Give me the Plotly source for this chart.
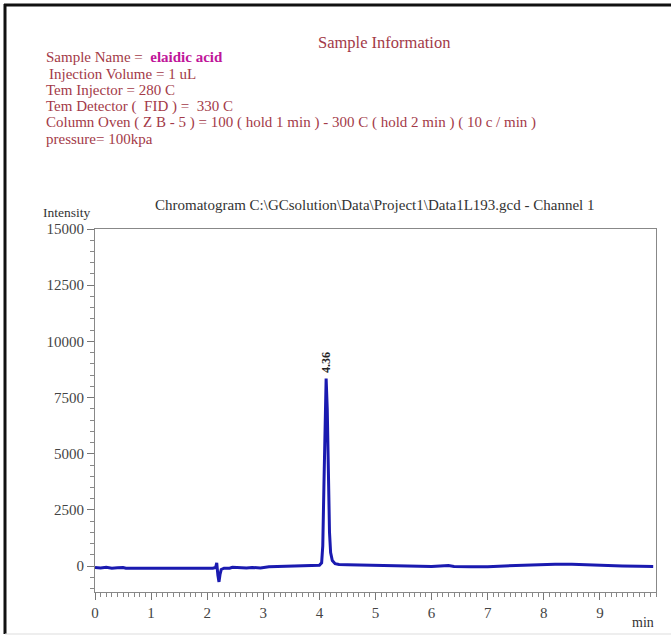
import plotly.graph_objects as go

# ---- data ----
time_min = [0.00, 0.10, 0.20, 0.30, 0.40, 0.50, 0.55, 0.70, 1.00, 1.30, 1.60, 1.90, 2.10, 2.15,
            2.17, 2.19, 2.21, 2.23, 2.25, 2.30, 2.40, 2.45, 2.55, 2.70, 2.80, 2.95, 3.10, 3.20,
            3.40, 3.60, 3.80, 3.90, 4.00, 4.04, 4.06, 4.08, 4.10, 4.12, 4.14, 4.16, 4.18, 4.20,
            4.23, 4.28, 4.35, 4.50, 4.80, 5.20, 5.60, 6.00, 6.30, 6.40, 6.70, 7.00, 7.30, 7.60,
            7.90, 8.20, 8.50, 8.80, 9.10, 9.40, 9.70, 9.95]
intensity = [-60, -80, -50, -90, -70, -60, -90, -95, -95, -95, -95, -95, -95, -60,
             150, -400, -700, -350, -150, -90, -90, -50, -70, -80, -60, -80, -30, -20,
             -10, 0, 30, 40, 40, 150, 900, 3500, 7000, 8350, 7000, 3800, 1500, 600,
             250, 110, 70, 60, 40, 20, 0, -10, 30, -10, -30, -30, 10, 40,
             80, 90, 80, 50, 30, 10, 0, -10]
peak_time = [4.12]
peak_height = [8350]
peak_label = ["4.36"]

x_ticks = [0, 1, 2, 3, 4, 5, 6, 7, 8, 9]
y_ticks = [0, 2500, 5000, 7500, 10000, 12500, 15000]
y_tick_text = ["0", "2500", "5000", "7500", "10000", "12500", "15000"]

header_lines = [
    "Injection Volume = 1 uL",
    "Tem Injector = 280 C",
    "Tem Detector (  FID ) =  330 C",
    "Column Oven ( Z B - 5 ) = 100 ( hold 1 min ) - 300 C ( hold 2 min ) ( 10 c / min )",
    "pressure= 100kpa",
]
sample_name = "elaidic acid"
chart_title = r"Chromatogram C:\GCsolution\Data\Project1\Data1L193.gcd - Channel 1"

# ---- layout geometry ----
W, H = 671, 637
L, R, T, B = 95, 656, 229, 592
SERIF = "Liberation Serif, Times New Roman, serif"
HEAD_COL = "#a33a48"
HEAD_SIZE = 15


def px(xp):
    return (xp - L) / (R - L)


def py(yp):
    return (B - yp) / (B - T)


fig = go.Figure()
fig.add_trace(go.Scatter(x=time_min, y=intensity, mode="lines",
                         line=dict(color="#1a1ab0", width=3), hoverinfo="skip",
                         showlegend=False))

annotations = []
annotations.append(dict(text="Sample Information", x=px(384), y=py(43), xref="paper", yref="paper",
                        showarrow=False, font=dict(family=SERIF, size=16.5, color=HEAD_COL),
                        xanchor="center", yanchor="middle"))
annotations.append(dict(text="Sample Name =  <b><span style='color:#c0169a'>" + sample_name + "</span></b>",
                        x=px(44), y=py(57), xref="paper", yref="paper", showarrow=False,
                        font=dict(family=SERIF, size=HEAD_SIZE, color=HEAD_COL),
                        xanchor="left", yanchor="middle"))
line_y = [74, 90.3, 106.6, 123, 139.3]
line_x = [47, 44, 44, 44, 44]
for txt, yy, xx in zip(header_lines, line_y, line_x):
    annotations.append(dict(text=txt, x=px(xx), y=py(yy), xref="paper", yref="paper",
                            showarrow=False, font=dict(family=SERIF, size=HEAD_SIZE, color=HEAD_COL),
                            xanchor="left", yanchor="middle"))
annotations.append(dict(text=chart_title, x=px(375), y=py(205), xref="paper", yref="paper",
                        showarrow=False, font=dict(family=SERIF, size=15, color="#333333"),
                        xanchor="center", yanchor="middle"))
annotations.append(dict(text="Intensity", x=px(66), y=py(212), xref="paper", yref="paper",
                        showarrow=False, font=dict(family=SERIF, size=13.5, color="#333333"),
                        xanchor="center", yanchor="middle"))
annotations.append(dict(text="min", x=px(656), y=py(622), xref="paper", yref="paper",
                        showarrow=False, font=dict(family=SERIF, size=14, color="#333333"),
                        xanchor="right", yanchor="middle"))
for t, h, lab in zip(peak_time, peak_height, peak_label):
    annotations.append(dict(text="<b>" + lab + "</b>", x=t, y=h, xref="x", yref="y",
                            showarrow=False, textangle=-90, yanchor="bottom", yshift=3,
                            font=dict(family=SERIF, size=12, color="#222222")))

shapes = [
    dict(type="line", xref="paper", yref="paper", x0=px(4), x1=px(671), y0=py(5), y1=py(5),
         line=dict(color="#111111", width=3)),
    dict(type="line", xref="paper", yref="paper", x0=px(5), x1=px(5), y0=py(4), y1=py(634),
         line=dict(color="#111111", width=3)),
    dict(type="line", xref="paper", yref="paper", x0=px(5), x1=px(671), y0=py(634), y1=py(634),
         line=dict(color="#dddddd", width=1)),
]

fig.update_layout(
    width=W, height=H,
    margin=dict(l=L, r=W - R, t=T, b=H - B, pad=0),
    paper_bgcolor="white", plot_bgcolor="white",
    annotations=annotations, shapes=shapes,
    showlegend=False,
    xaxis=dict(range=[0, 10], tickvals=x_ticks, ticks="outside", ticklen=7, tickcolor="#777777",
               showline=True, linecolor="#888888", linewidth=1, mirror=True,
               showgrid=False, zeroline=False,
               tickfont=dict(family=SERIF, size=15, color="#444444"),
               minor=dict(dtick=0.1, ticks="outside", ticklen=4, tickcolor="#888888", showgrid=False)),
    yaxis=dict(range=[-1150, 15000], tickvals=y_ticks, ticktext=y_tick_text, ticks="outside",
               ticklen=7, tickcolor="#777777",
               showline=True, linecolor="#888888", linewidth=1, mirror=True,
               showgrid=False, zeroline=False,
               tickfont=dict(family=SERIF, size=15, color="#444444"),
               minor=dict(dtick=500, ticks="outside", ticklen=4, tickcolor="#888888", showgrid=False)),
)

fig.write_html("out.html")
